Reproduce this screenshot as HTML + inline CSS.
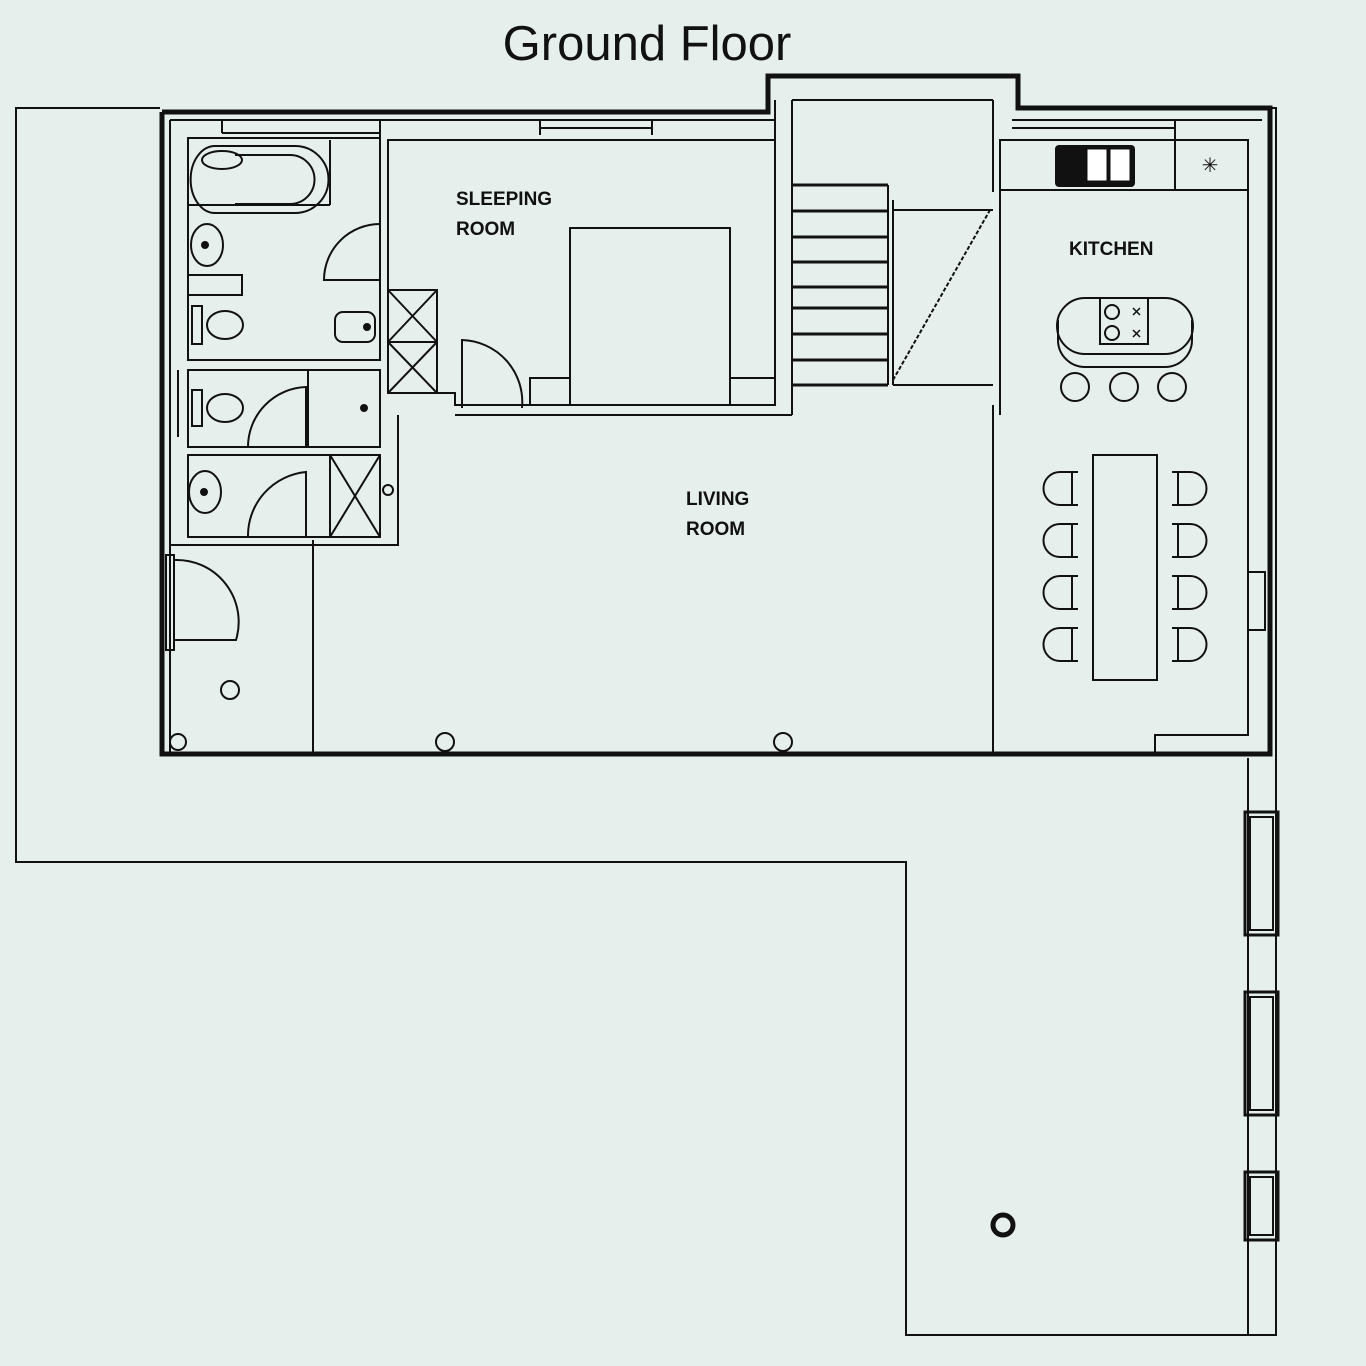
<!DOCTYPE html>
<html><head><meta charset="utf-8"><style>
html,body{margin:0;padding:0;background:#e6efec;}
svg{display:block}
text{font-family:"Liberation Sans",sans-serif;}
</style></head><body>
<svg width="1366" height="1366" viewBox="0 0 1366 1366" xmlns="http://www.w3.org/2000/svg">
<rect width="1366" height="1366" fill="#e6efec"/>
<text x="647" y="60" font-size="49" text-anchor="middle" fill="#111">Ground Floor</text>
<g fill="none" stroke="#111" stroke-width="2">
<!-- terrace -->
<polyline points="160,108 16,108 16,862 906,862 906,1335 1276,1335 1276,108 1260,108"/>
<line x1="1248" y1="758" x2="1248" y2="1335"/>
<rect x="1245" y="812" width="33" height="123" stroke-width="3"/>
<rect x="1250" y="817" width="23" height="113"/>
<rect x="1245" y="992" width="33" height="123" stroke-width="3"/>
<rect x="1250" y="997" width="23" height="113"/>
<rect x="1245" y="1172" width="33" height="68" stroke-width="3"/>
<rect x="1250" y="1177" width="23" height="58"/>
<circle cx="1003" cy="1225" r="10" stroke-width="5"/>
<!-- building outline -->
<polyline points="162,112 768,112 768,76 1018,76 1018,108 1270,108 1270,754 162,754 162,112" stroke-width="5"/>
<line x1="170" y1="120" x2="170" y2="752"/>
<line x1="170" y1="120" x2="775" y2="120"/>
<line x1="222" y1="120" x2="222" y2="133"/><line x1="222" y1="133" x2="380" y2="133"/>
<line x1="380" y1="120" x2="380" y2="360"/>
<line x1="540" y1="120" x2="540" y2="135"/><line x1="652" y1="120" x2="652" y2="135"/><line x1="540" y1="128" x2="652" y2="128"/>
<line x1="775" y1="100" x2="775" y2="405"/>
<line x1="792" y1="100" x2="993" y2="100"/>
<line x1="792" y1="100" x2="792" y2="415"/>
<line x1="993" y1="100" x2="993" y2="192"/>
<line x1="1012" y1="120" x2="1262" y2="120"/>
<line x1="1012" y1="128" x2="1175" y2="128"/>
<!-- bathroom 1 -->
<rect x="188" y="138" width="192" height="222"/>
<line x1="330" y1="140" x2="330" y2="205"/><line x1="188" y1="205" x2="330" y2="205"/>
<path d="M215,146 L295,146 A30,30 0 0 1 295,213 L215,213 A24,33 0 0 1 215,146Z"/>
<path d="M235,155 L290,155 A22,22 0 0 1 290,204 L235,204"/>
<ellipse cx="222" cy="160" rx="20" ry="9"/>
<ellipse cx="207" cy="245" rx="16" ry="21"/><circle cx="205" cy="245" r="3" fill="#111"/>
<polyline points="188,275 242,275 242,295 188,295"/>
<ellipse cx="225" cy="325" rx="18" ry="14"/><rect x="192" y="306" width="10" height="38"/>
<rect x="335" y="312" width="40" height="30" rx="8"/><circle cx="367" cy="327" r="3" fill="#111"/>
<path d="M380,224 A56,56 0 0 0 324,280 L380,280"/>
<!-- wardrobe -->
<rect x="388" y="290" width="49" height="103"/>
<line x1="388" y1="342" x2="437" y2="342"/>
<path d="M388,290 L437,342 M437,290 L388,342 M388,342 L437,393 M437,342 L388,393"/>
<!-- sleeping room -->
<polyline points="388,290 388,140 775,140"/>
<rect x="570" y="228" width="160" height="177"/>
<rect x="530" y="378" width="40" height="27"/><rect x="730" y="378" width="45" height="27"/>
<polyline points="398,393 455,393 455,405 775,405"/>
<line x1="455" y1="415" x2="792" y2="415"/>
<path d="M462,408 L462,340 A62,62 0 0 1 522,408"/>
<!-- toilet 2 -->
<rect x="188" y="370" width="192" height="77"/>
<line x1="308" y1="370" x2="308" y2="447"/>
<line x1="178" y1="370" x2="178" y2="437"/>
<ellipse cx="225" cy="408" rx="18" ry="14"/><rect x="192" y="390" width="10" height="36"/>
<circle cx="364" cy="408" r="3" fill="#111"/>
<path d="M306,447 L306,387 A60,60 0 0 0 248,447"/>
<!-- toilet 3 -->
<rect x="188" y="455" width="192" height="82"/>
<rect x="330" y="455" width="50" height="82"/>
<path d="M330,455 L380,537 M380,455 L330,537"/>
<ellipse cx="205" cy="492" rx="16" ry="21"/><circle cx="204" cy="492" r="3" fill="#111"/>
<path d="M306,537 L306,472 A64,64 0 0 0 248,537"/>
<circle cx="388" cy="490" r="5"/>
<!-- living walls -->
<polyline points="398,415 398,545 170,545"/>
<line x1="313" y1="540" x2="313" y2="752"/>
<line x1="993" y1="405" x2="993" y2="752"/>
<!-- entrance door -->
<rect x="166" y="555" width="8" height="95"/>
<path d="M174,560 A62,62 0 0 1 236,640 L174,640"/>
<circle cx="230" cy="690" r="9"/><circle cx="178" cy="742" r="8"/>
<circle cx="445" cy="742" r="9"/><circle cx="783" cy="742" r="9"/>
<!-- stairs -->
<line x1="888" y1="185" x2="888" y2="385"/>
<line x1="893" y1="200" x2="893" y2="385"/>
<line x1="893" y1="210" x2="993" y2="210"/>
<line x1="893" y1="385" x2="993" y2="385"/>
<line x1="893" y1="380" x2="990" y2="210" stroke-dasharray="4,2"/>
<g stroke-width="3">
<line x1="792" y1="185" x2="888" y2="185"/><line x1="792" y1="211" x2="888" y2="211"/>
<line x1="792" y1="237" x2="888" y2="237"/><line x1="792" y1="262" x2="888" y2="262"/>
<line x1="792" y1="287" x2="888" y2="287"/><line x1="792" y1="308" x2="888" y2="308"/>
<line x1="792" y1="334" x2="888" y2="334"/><line x1="792" y1="360" x2="888" y2="360"/>
<line x1="792" y1="385" x2="888" y2="385"/>
</g>
<!-- kitchen -->
<line x1="1000" y1="140" x2="1000" y2="415"/>
<rect x="1000" y="140" width="248" height="50"/>
<line x1="1175" y1="120" x2="1175" y2="190"/>
<polyline points="1248,190 1248,735 1155,735 1155,752"/>
<rect x="1248" y="572" width="17" height="58"/>
<rect x="1100" y="298" width="48" height="46"/>
<path d="M1085,298 L1165,298 A28,28 0 0 1 1165,354 L1085,354 A28,28 0 0 1 1085,298Z"/>
<path d="M1058,320 L1058,340 A27,27 0 0 0 1085,367 L1165,367 A27,27 0 0 0 1192,340 L1192,320"/>
<circle cx="1112" cy="312" r="7"/><circle cx="1112" cy="333" r="7"/>
<path d="M1133,308 l7,7 m0,-7 l-7,7 M1133,330 l7,7 m0,-7 l-7,7" stroke-width="1.5"/>
<circle cx="1075" cy="387" r="14"/><circle cx="1124" cy="387" r="14"/><circle cx="1172" cy="387" r="14"/>
<rect x="1093" y="455" width="64" height="225"/>
</g>
<rect x="1055" y="145" width="80" height="42" rx="4" fill="#111"/>
<rect x="1087" y="149" width="20" height="32" fill="#fff" stroke="#111"/>
<rect x="1110" y="149" width="20" height="32" fill="#fff" stroke="#111"/>
<text x="1210" y="172" font-size="20" text-anchor="middle" fill="#111">✳</text>
<g fill="none" stroke="#111" stroke-width="2">
<path id="cl" d="M1078,472 L1060,472 A16,16 0 0 0 1060,505 L1078,505 M1072,472 L1072,505"/>
<use href="#cl" y="52"/><use href="#cl" y="104"/><use href="#cl" y="156"/>
<g transform="translate(2250,0) scale(-1,1)">
<use href="#cl"/><use href="#cl" y="52"/><use href="#cl" y="104"/><use href="#cl" y="156"/>
</g>
</g>
<g font-weight="bold" font-size="19" fill="#111">
<text x="456" y="205">SLEEPING</text><text x="456" y="235">ROOM</text>
<text x="1069" y="255">KITCHEN</text>
<text x="686" y="505">LIVING</text><text x="686" y="535">ROOM</text>
</g>
</svg>
</body></html>
